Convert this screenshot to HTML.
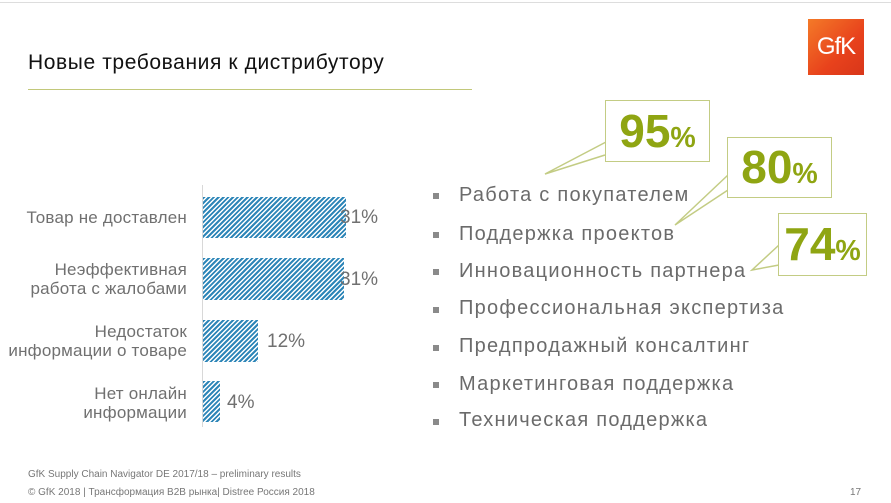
<!DOCTYPE html>
<html><head><meta charset="utf-8"><style>
body{margin:0;width:891px;height:503px;background:#fff;position:relative;overflow:hidden;font-family:"Liberation Sans","Noto Sans CJK SC",sans-serif;}
.a{position:absolute;white-space:nowrap;}
.lbl{position:absolute;right:704px;text-align:right;color:#707070;font-size:17px;line-height:19px;letter-spacing:0.2px;}
.bar{position:absolute;left:203px;background:repeating-linear-gradient(135deg,#2e86b8 0 2px,#fff 2px 3.4px);}
.val{position:absolute;color:#707070;font-size:19px;}
.bl{position:absolute;left:459px;color:#6b6b6b;font-size:20px;letter-spacing:1.25px;}
.sq{position:absolute;left:433px;width:6px;height:6px;background:#8a8a8a;}
.box{position:absolute;border:1.5px solid #c3cc84;background:#fff;color:#8fa512;font-weight:bold;text-align:center;}
.box span{font-size:0.62em;}
</style></head><body>
<div class="a" style="left:0;top:2px;width:891px;height:1px;background:#ddd"></div>
<div class="a" style="left:28px;top:51px;font-size:21px;letter-spacing:0.6px;color:#111">Новые требования к дистрибутору</div>
<div class="a" style="left:28px;top:89px;width:444px;height:1px;background:#c2c87a"></div>
<div class="a" style="left:808px;top:19px;width:56px;height:56px;background:linear-gradient(135deg,#f47a28,#e8421c 60%,#d8361a);color:#fff;font-size:24px;line-height:56px;text-align:center;letter-spacing:-1px">GfK</div>

<div class="a" style="left:202px;top:185px;width:1px;height:242px;background:#d8d8d8"></div>
<div class="lbl" style="top:208px">Товар не доставлен</div>
<div class="lbl" style="top:260px">Неэффективная<br>работа с жалобами</div>
<div class="lbl" style="top:322px">Недостаток<br>информации о товаре</div>
<div class="lbl" style="top:384px">Нет онлайн<br>информации</div>
<div class="bar" style="top:197px;width:143px;height:41px"></div>
<div class="bar" style="top:258px;width:141px;height:42px"></div>
<div class="bar" style="top:320px;width:55px;height:42px"></div>
<div class="bar" style="top:381px;width:17px;height:41px"></div>
<div class="val" style="left:340px;top:207px">31%</div>
<div class="val" style="left:340px;top:269px">31%</div>
<div class="val" style="left:267px;top:331px">12%</div>
<div class="val" style="left:227px;top:392px">4%</div>

<div class="sq" style="top:193px"></div><div class="bl" style="top:184px">Работа с покупателем</div>
<div class="sq" style="top:232px"></div><div class="bl" style="top:223px">Поддержка проектов</div>
<div class="sq" style="top:269px"></div><div class="bl" style="top:260px">Инновационность партнера</div>
<div class="sq" style="top:307px"></div><div class="bl" style="top:297px">Профессиональная экспертиза</div>
<div class="sq" style="top:345px"></div><div class="bl" style="top:335px">Предпродажный консалтинг</div>
<div class="sq" style="top:382px"></div><div class="bl" style="top:373px">Маркетинговая поддержка</div>
<div class="sq" style="top:419px"></div><div class="bl" style="top:409px">Техническая поддержка</div>

<svg class="a" style="left:0;top:0" width="891" height="503">
<polyline points="606,142 545,174 605,155" fill="#fff" stroke="#c3cc84" stroke-width="1.5"/>
<polyline points="728,175 675,225 728,190" fill="#fff" stroke="#c3cc84" stroke-width="1.5"/>
<polyline points="779,245 752,270 779,265" fill="#fff" stroke="#c3cc84" stroke-width="1.5"/>
</svg>
<div class="box" style="left:605px;top:100px;width:103px;height:60px;font-size:46px;line-height:60px">95<span>%</span></div>
<div class="box" style="left:727px;top:137px;width:103px;height:59px;font-size:46px;line-height:59px">80<span>%</span></div>
<div class="box" style="left:778px;top:213px;width:87px;height:61px;font-size:46px;line-height:61px">74<span>%</span></div>

<div class="a" style="left:28px;top:469px;font-size:10px;color:#777">GfK Supply Chain Navigator DE 2017/18 – preliminary results</div>
<div class="a" style="left:28px;top:487px;font-size:10px;color:#777">© GfK 2018 | Трансформация B2B рынка| Distree Россия 2018</div>
<div class="a" style="left:850px;top:487px;font-size:10px;color:#777">17</div>
</body></html>
